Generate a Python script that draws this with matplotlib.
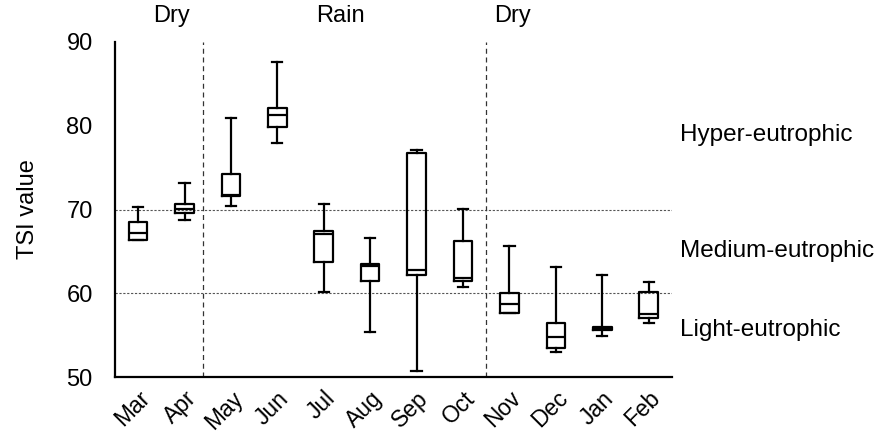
import matplotlib
matplotlib.use('Agg')
import matplotlib.pyplot as plt

plt.rcParams['font.family'] = ['Liberation Sans', 'DejaVu Sans']

# meses y estadisticas de cada caja
meses = ['Mar', 'Apr', 'May', 'Jun', 'Jul', 'Aug', 'Sep', 'Oct', 'Nov', 'Dec', 'Jan', 'Feb']
bigote_sup = [70.3, 73.2, 80.9, 87.6, 70.6, 66.6, 77.1, 70.1, 65.6, 63.1, 62.2, 61.3]
q3 = [68.5, 70.6, 74.2, 82.1, 67.4, 63.5, 76.8, 66.2, 60.0, 56.4, 56.0, 60.1]
mediana = [67.2, 70.1, 71.7, 81.3, 67.1, 63.3, 62.8, 61.8, 58.7, 54.8, 55.8, 57.5]
q1 = [66.4, 69.6, 71.6, 79.8, 63.7, 61.5, 62.2, 61.5, 57.6, 53.5, 55.6, 57.0]
bigote_inf = [66.3, 68.8, 70.4, 78.0, 60.1, 55.4, 50.75, 60.7, 57.6, 53.0, 54.9, 56.5]

# estaciones y niveles troficos
estaciones = ['Dry', 'Rain', 'Dry']
pos_estaciones = [0.71, 4.35, 8.06]
divisiones = [1.4, 7.5]
umbrales = [60, 70]
niveles = ['Hyper-eutrophic', 'Medium-eutrophic', 'Light-eutrophic']
y_niveles = [78.9, 65.0, 55.6]

stats = []
for i, m in enumerate(meses):
    stats.append({'label': m, 'whislo': bigote_inf[i], 'q1': q1[i], 'med': mediana[i],
                  'q3': q3[i], 'whishi': bigote_sup[i], 'fliers': []})

fig = plt.figure(figsize=(8.84, 4.42), dpi=100)
ax = fig.add_axes([0.130, 0.147, 0.630, 0.758])

estilo = dict(color='black', linewidth=1.6)
ax.bxp(stats, positions=range(len(meses)), widths=0.4, capwidths=0.22,
       boxprops=estilo, medianprops=estilo, whiskerprops=estilo, capprops=estilo,
       showfliers=False, manage_ticks=False)

for u in umbrales:
    ax.axhline(u, color='#555555', linestyle=(0, (2, 1.5)), linewidth=0.8, zorder=0)
for d in divisiones:
    ax.axvline(d, color='#333333', linestyle=(0, (4, 3)), linewidth=0.9, zorder=0)

ax.set_xlim(-0.5, 11.5)
ax.set_ylim(50, 90)
ax.set_yticks([50, 60, 70, 80, 90])
ax.set_xticks(range(len(meses)))
ax.set_xticklabels(meses, rotation=45, ha='right', rotation_mode='anchor', fontsize=16.5)
ax.tick_params(axis='y', labelsize=17, length=0, pad=16)
ax.tick_params(axis='x', length=0, pad=7)
ax.set_ylabel('TSI value', fontsize=17, labelpad=20)

for s in ['top', 'right']:
    ax.spines[s].set_visible(False)
for s in ['left', 'bottom']:
    ax.spines[s].set_linewidth(1.6)

for nombre, x in zip(estaciones, pos_estaciones):
    ax.text(x, 91.8, nombre, ha='center', va='bottom', fontsize=17)
for nombre, y in zip(niveles, y_niveles):
    ax.text(11.68, y, nombre, ha='left', va='center', fontsize=17.5)

fig.savefig('out.png', dpi=100)
